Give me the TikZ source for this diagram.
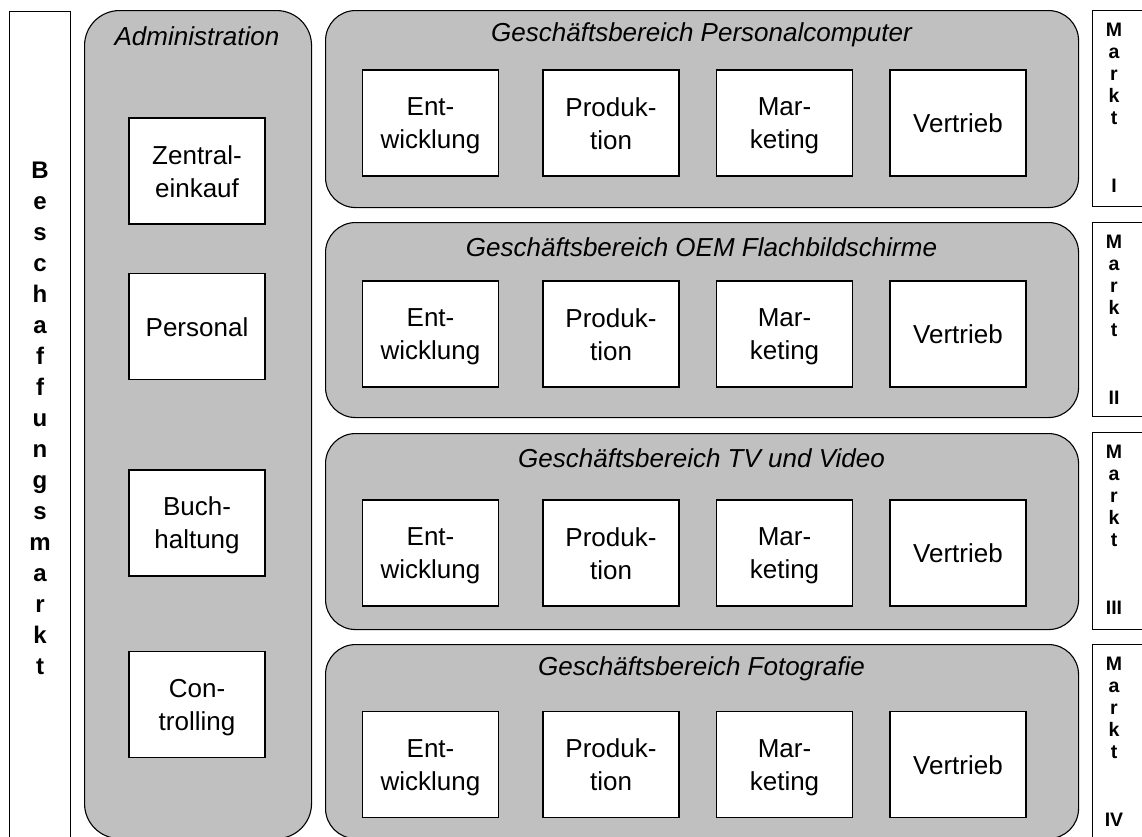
\documentclass[tikz,border=0pt]{standalone}
\usepackage{fontspec}
\setmainfont{Liberation Sans}
% fixed line height so that every department label sits at the same baselines
\newcommand{\deptstrut}{\vrule height 24pt depth 5pt width 0pt}
\newcommand{\deptlines}[2]{\deptstrut#1\\\deptstrut#2}
\begin{document}
\begin{tikzpicture}[x=1pt,y=-1pt,
  frame/.style={draw=black,line width=1.1pt,inner sep=0pt,anchor=north west},
  unitpanel/.style={frame,fill=panelgray,rounded corners=30pt},
  dept/.style={draw=black,line width=1.1pt,fill=white,minimum width=136pt,minimum height=106pt,
    inner sep=0pt,align=center,font=\fontsize{26}{33}\selectfont},
  paneltitle/.style={font=\fontsize{26}{33}\selectfont\itshape,inner sep=0pt},
  vlabel/.style={align=center,inner sep=0pt,font=\fontsize{24}{31}\selectfont\bfseries},
  mlabel/.style={align=center,inner sep=0pt,font=\fontsize{19.5}{22}\selectfont\bfseries}]
\definecolor{panelgray}{RGB}{192,192,192}
\useasboundingbox (0,0) rectangle (1142,836);
\clip (0,0) rectangle (1142,836);

% procurement market column
\node[frame,minimum width=61pt,minimum height=840pt] (beschaffung) at (9,11) {};
\node[vlabel] (beschaffungtxt) at (40,418)
  {B\\e\\s\\c\\h\\a\\f\\f\\u\\n\\g\\s\\m\\a\\r\\k\\t};

% administration column
\node[frame,fill=panelgray,rounded corners=35pt,minimum width=227pt,minimum height=828pt] (admin) at (84,10) {};
\node[paneltitle] (admintitle) at (197,36) {Administration};
\node[dept] (einkauf) at (197,171) {\deptlines{Zentral-}{einkauf}};
\node[dept] (personal) at (197,326.5) {\deptstrut Personal};
\node[dept] (buchhaltung) at (197,523) {\deptlines{Buch-}{haltung}};
\node[dept] (controlling) at (197,704.5) {\deptlines{Con-}{trolling}};

% business units with their departments
\foreach \top/\h/\by/\title/\i in {
    10/197/123/{Geschäftsbereich Personalcomputer}/1,
    222/195/334/{Geschäftsbereich OEM Flachbildschirme}/2,
    433/196/553/{Geschäftsbereich TV und Video}/3,
    644/194/764.5/{Geschäftsbereich Fotografie}/4} {
  \node[unitpanel,minimum width=753pt,minimum height=\h pt] (gb\i) at (325,\top) {};
  \node[paneltitle] (gbtitle\i) at (701.5,\top+25) {\title};
  \node[dept] (ent\i) at (430.5,\by) {\deptlines{Ent-}{wicklung}};
  \node[dept] (prod\i) at (611,\by) {\deptlines{Produk-}{tion}};
  \node[dept] (mark\i) at (784.5,\by) {\deptlines{Mar-}{keting}};
  \node[dept] (vert\i) at (958,\by) {\deptstrut Vertrieb};
}

% sales markets column
\foreach \top/\h/\num/\i in {10/196/I/1, 222/194/II/2, 432/197/III/3, 644/196/IV/4} {
  \node[frame,minimum width=70pt,minimum height=\h pt] (markt\i) at (1092,\top) {};
  \node[mlabel] (markttxt\i) at (1114,\top+98) {M\\a\\r\\k\\t\\[46pt]\num};
}
\end{tikzpicture}
\end{document}
